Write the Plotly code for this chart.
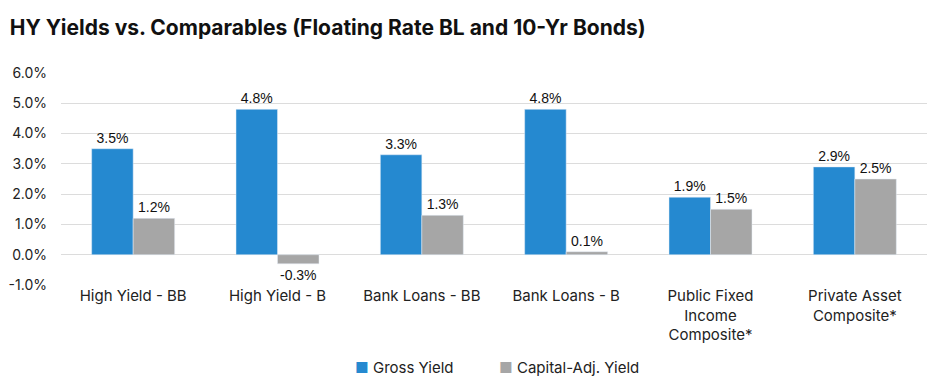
import plotly.graph_objects as go

categories = ["High Yield - BB", "High Yield - B", "Bank Loans - BB", "Bank Loans - B",
              "Public Fixed<br>Income<br>Composite*", "Private Asset<br>Composite*"]
series_names = ["Gross Yield", "Capital-Adj. Yield"]
gross_yield = [3.5, 4.8, 3.3, 4.8, 1.9, 2.9]
cap_adj_yield = [1.2, -0.3, 1.3, 0.1, 1.5, 2.5]
tick_vals = [-1, 0, 1, 2, 3, 4, 5, 6]
tick_text = ["-1.0%", "0.0%", "1.0%", "2.0%", "3.0%", "4.0%", "5.0%", "6.0%"]

FONT = "Inter"
BLUE = "#2589D0"
GRAY = "#A6A6A6"
# page body has an 8px default margin; figure is sized to compensate
W, H = 929, 375
fig = go.Figure()
for name, vals, col in [(series_names[0], gross_yield, BLUE), (series_names[1], cap_adj_yield, GRAY)]:
    fig.add_trace(go.Bar(
        name=name, x=categories, y=vals, marker_color=col,
        text=[f"{v:.1f}%" for v in vals], textposition="outside",
        textfont=dict(size=14, color="#111111", family="Liberation Sans"), cliponaxis=False,
        showlegend=False,
    ))

legend_x = [0.337, 0.503]
for name, col, lx in zip(series_names, [BLUE, GRAY], legend_x):
    fig.add_annotation(
        xref="paper", yref="paper", x=lx, y=-0.387, xanchor="left", yanchor="middle",
        text=f'<span style="color:{col}">■</span> {name}', showarrow=False,
        font=dict(family=FONT, size=15, color="#222222"),
    )

fig.update_layout(
    width=W, height=H,
    margin=dict(l=53, r=10, t=65, b=98, autoexpand=False),
    paper_bgcolor="white", plot_bgcolor="white",
    barmode="group", bargap=0.425, bargroupgap=0,
    title=dict(text="<b>HY Yields vs. Comparables (Floating Rate BL and 10-Yr Bonds)</b>",
               x=0.002, xanchor="left", y=0.947, yanchor="middle",
               font=dict(family=FONT, size=21, color="#111111")),
    font=dict(family=FONT, size=14, color="#222222"),
)
fig.update_yaxes(range=[-1, 6], tickvals=tick_vals, ticktext=tick_text, automargin=False,
                 showgrid=True, gridcolor="#DCDCDC", gridwidth=1,
                 zeroline=True, zerolinecolor="#DCDCDC", zerolinewidth=1,
                 showline=False, ticks="", ticklabelstandoff=13,
                 tickfont=dict(family=FONT, size=14, color="#222222"))
fig.update_xaxes(showgrid=False, showline=False, ticks="", automargin=False,
                 tickfont=dict(family=FONT, size=15, color="#222222"))
fig.write_html("out.html")
